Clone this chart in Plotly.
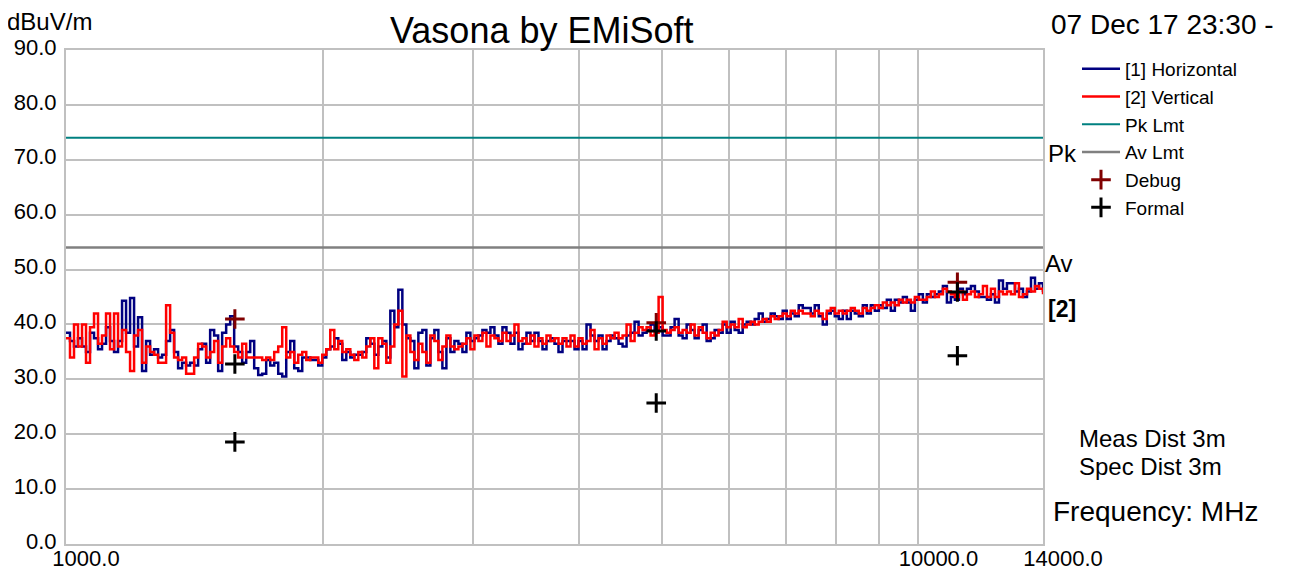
import numpy as np
import plotly.graph_objects as go

# ---------------- data ----------------
F_START, F_STOP = 1000.0, 14000.0   # sweep, MHz

horizontal_dbuv = [
    38.5, 37, 36, 37.5, 36, 35, 38.5, 37.5, 35.5, 36.5, 39.5, 37, 35, 37, 44.3, 38.5, 44.8, 36, 41.3, 31.5,
    37, 34.5, 35.5, 34, 34.5, 37, 39, 35, 32, 33, 32.5, 33, 32.5, 35.5, 36.5, 33, 39, 38, 31.5, 38.5,
    40, 41.5, 36, 35, 33, 35, 37, 32, 30.8, 31, 33.5, 32.5, 33, 31, 30.5, 35, 37, 32, 31.5, 34,
    34, 33.5,
    33.5, 32.5, 34, 35.5, 36, 37.5, 36.5, 33.5, 35, 34, 34.5, 34.5, 35, 37.5, 36.5, 34.5, 36, 37, 34, 42.5,
    39.5, 46.3, 40, 37.5, 37, 32, 38.5, 39, 32.5, 37.5, 39, 35, 32, 37.5, 35, 37, 36.5, 35, 38.5, 37,
    37.5, 38, 39, 38.5, 39.5, 38, 36.5, 39.5, 38.5, 36.5, 38.5, 35.5, 36.5, 38.5, 37, 38.5, 37, 35.5, 37, 37.5,
    36.5,
    35, 37, 37, 37, 35.5, 37, 35.5, 40, 38, 37, 38, 35.5, 37, 38, 37.5, 36.5, 36, 38, 38.5, 40.5,
    38, 38.5, 39, 40, 39, 39.5, 38, 38, 39.5, 41, 38, 37.5, 40, 39, 37.5, 39, 40, 37, 37.5, 39,
    38.5, 40, 38.5, 40.5, 39, 38.5, 40, 40.5, 40, 41, 42, 40.5, 41, 42, 41.5, 41, 42.5, 41, 42, 41.5,
    43.5, 43,
    43, 42, 43.5, 41.5, 40, 42, 42.5, 41.5, 41, 42.5, 41, 42.5, 42, 41.5, 43.5, 42, 43.5, 42.5, 43.5, 43,
    44.5, 42.5, 44.5, 44, 45, 44, 42.5, 44.5, 45.5, 44, 45.5, 45, 45.5, 46, 47, 44, 45, 44.5, 46.5, 45.5,
    46.5, 47, 46, 45, 45, 44.5, 45.5, 44, 48, 46.5, 47.5, 47.5, 46, 46.5, 45, 46, 48.5, 46.5, 47.5, 45.9,
]

vertical_dbuv = [
    37.5, 34, 40, 36, 40, 33, 39.5, 42, 36.5, 38, 42, 35.5, 42, 36, 39, 35, 31.5, 38, 39, 33,
    36, 35, 34.5, 33, 33, 43.5, 38.5, 34, 33.5, 34, 31, 31, 34, 36.5, 36, 34, 35, 37, 33, 36,
    37.5, 36, 35, 34, 36.5, 34, 34, 34, 34, 33.5, 34, 33.5, 35, 36, 39.5, 34, 35, 33, 34.5, 35,
    33.5, 34,
    34, 33, 34.5, 35.5, 39, 35.5, 37, 35, 35.5, 34.5, 33.5, 35, 34, 36, 37.5, 32, 37.5, 36.5, 33, 36,
    40, 42.5, 30.5, 38, 35, 33.5, 36.5, 35, 33, 38, 37, 33.5, 36, 38, 36, 35.5, 36, 36.5, 37.5, 35.5,
    38, 37, 38.5, 36, 38, 37.5, 37, 38.5, 37, 38, 40, 37, 37.5, 36.5, 38, 36, 37.5, 36.5, 38, 37,
    37.5,
    36.5, 37.5, 36, 38, 36, 37.5, 36.5, 37, 39, 35.5, 37.5, 36.5, 38, 37.5, 38.5, 37.5, 38, 40, 37, 38.5,
    39.5, 39, 39.5, 38, 38.5, 45, 39, 38.5, 39, 39.5, 38.5, 39, 38.5, 40, 38, 39.5, 38.5, 37.5, 38.5, 38,
    39, 40.5, 39.5, 40, 39.5, 41, 39.5, 40, 40.5, 40, 40.5, 41, 40.5, 41.5, 41, 41.5, 42, 41.5, 42.5, 42,
    42.5, 42,
    42, 41.5, 42.5, 42, 41, 42.5, 43, 42, 42.5, 42, 42.5, 43, 42.5, 42, 43, 42.5, 43, 43.5, 43, 44,
    43.5, 44, 43.5, 44.5, 44, 44.5, 44, 45, 44.5, 44.5, 45, 46, 45, 45.5, 46.5, 46, 45.5, 45, 46, 44.5,
    45.5, 46, 45, 45.5, 47, 45, 46.5, 45, 46, 45.5, 46, 45.5, 47.5, 45, 45.5, 46.5, 46, 47, 46.5, 45.5,
]

pk_limit_dbuv = 74.0
av_limit_dbuv = 54.0

debug_freq_mhz = [1578, 4925, 11110]
debug_dbuv = [41.0, 40.3, 47.7]

formal_freq_mhz = [1578, 1578, 4925, 4925, 11110, 11110]
formal_dbuv = [32.8, 18.6, 38.8, 25.7, 45.9, 34.3]

x_tick_vals = [1000, 2000, 3000, 4000, 5000, 6000, 7000, 8000, 9000, 10000, 14000]
x_tick_text = ["1000.0", "", "", "", "", "", "", "", "", "10000.0", "14000.0"]
y_tick_vals = [0, 10, 20, 30, 40, 50, 60, 70, 80, 90]
y_tick_text = ["0.0", "10.0", "20.0", "30.0", "40.0", "50.0", "60.0", "70.0", "80.0", "90.0"]

# ---------------- figure ----------------
# page body keeps an 8px default margin, so the figure is placed 8px in from the top-left
OFF = 8
W, H = 1301 - OFF, 571 - OFF
L, R, T, B = 66, 1043, 50, 544          # plot area in window pixels
FONT = "Liberation Sans, Arial, sans-serif"
GRID = "#c0c0c0"


def px(xp):
    return (xp - L) / (R - L)


def py(yp):
    return (B - yp) / (B - T)


freq_h = np.geomspace(F_START, F_STOP, len(horizontal_dbuv))
freq_v = np.geomspace(F_START, F_STOP, len(vertical_dbuv))

fig = go.Figure()
fig.add_trace(go.Scatter(x=freq_h, y=horizontal_dbuv, mode="lines", name="[1] Horizontal",
                         line=dict(color="#000080", width=2.5, shape="hv")))
fig.add_trace(go.Scatter(x=freq_v, y=vertical_dbuv, mode="lines", name="[2] Vertical",
                         line=dict(color="#ff0000", width=2.5, shape="hv")))
fig.add_trace(go.Scatter(x=[F_START, F_STOP], y=[pk_limit_dbuv, pk_limit_dbuv], mode="lines",
                         name="Pk Lmt", line=dict(color="#008080", width=2)))
fig.add_trace(go.Scatter(x=[F_START, F_STOP], y=[av_limit_dbuv, av_limit_dbuv], mode="lines",
                         name="Av Lmt", line=dict(color="#808080", width=2.5)))
fig.add_trace(go.Scatter(x=debug_freq_mhz, y=debug_dbuv, mode="markers", name="Debug",
                         marker=dict(symbol="cross-thin", size=14,
                                     line=dict(width=3, color="#800000"))))
fig.add_trace(go.Scatter(x=formal_freq_mhz, y=formal_dbuv, mode="markers", name="Formal",
                         marker=dict(symbol="cross-thin", size=14,
                                     line=dict(width=3, color="#000000"))))

ann = []


def text(t, xpix, ypix, size, xanchor="left", yanchor="middle"):
    ann.append(dict(text=t, x=px(xpix), y=py(ypix), xref="paper", yref="paper",
                    xanchor=xanchor, yanchor=yanchor, showarrow=False,
                    font=dict(family=FONT, size=size, color="#000000")))


text("Vasona by EMiSoft", 542, 31, 36, xanchor="center")
text("dBuV/m", 5, 22, 24)
text("07 Dec 17 23:30 -", 1049, 24, 28)
text("Pk", 1046, 153, 24)
text("Av", 1043, 263, 24)
text("<b>[2]</b>", 1046, 309, 23)
text("Meas Dist 3m", 1077, 439, 24)
text("Spec Dist 3m", 1077, 466, 24)
text("Frequency: MHz", 1051, 511, 28)

fig.update_layout(
    width=W, height=H,
    template="none",
    paper_bgcolor="white", plot_bgcolor="white",
    margin=dict(l=L - OFF, r=(W + OFF) - R, t=T - OFF, b=(H + OFF) - B, pad=0),
    showlegend=True,
    legend=dict(x=px(1077), y=py(50), xanchor="left", yanchor="top",
                font=dict(family=FONT, size=19, color="#000000"),
                itemwidth=38, bgcolor="rgba(0,0,0,0)", tracegroupgap=0),
    annotations=ann,
    font=dict(family=FONT, color="#000000"),
)
fig.update_xaxes(type="log", range=[np.log10(F_START), np.log10(F_STOP)],
                 tickvals=x_tick_vals, ticktext=x_tick_text, ticks="",
                 showgrid=True, gridcolor=GRID, gridwidth=2,
                 showline=True, linecolor=GRID, linewidth=2, mirror=True,
                 zeroline=False, automargin=False, ticklabelshift=20, ticklabelstandoff=-6,
                 tickfont=dict(family=FONT, size=22, color="#000000"))
fig.update_yaxes(range=[0, 90], tickvals=y_tick_vals, ticktext=y_tick_text, ticks="",
                 showgrid=True, gridcolor=GRID, gridwidth=2,
                 showline=True, linecolor=GRID, linewidth=2, mirror=True,
                 zeroline=False, automargin=False, ticklabelshift=-3, ticklabelstandoff=3,
                 tickfont=dict(family=FONT, size=22, color="#000000"))

fig.write_html("out.html")
